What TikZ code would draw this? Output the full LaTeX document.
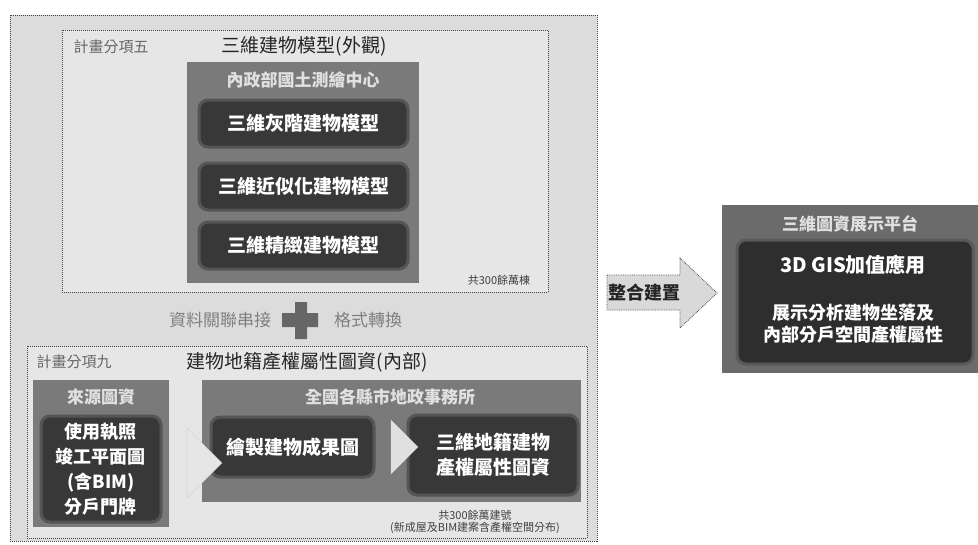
\documentclass[tikz,border=0pt]{standalone}
\usepackage{fontspec}
\setmainfont{Noto Sans CJK TC}
\usetikzlibrary{shapes.arrows}
\definecolor{panelbg}{HTML}{DCDCDC}
\definecolor{subbg}{HTML}{E6E6E6}
\definecolor{darkbg}{HTML}{7A7A7A}
\definecolor{innerbg}{HTML}{383838}
\definecolor{halo}{HTML}{555555}
\begin{document}
\begin{tikzpicture}[x=1pt,y=-1pt,
  box/.style={anchor=north west,inner sep=0pt,outer sep=0pt},
  panel/.style={box,draw=black!75,densely dotted,line width=1pt,fill=panelbg},
  subpanel/.style={box,draw=black!75,densely dotted,line width=1pt,fill=subbg},
  darkpanel/.style={box,fill=darkbg},
  innerbox/.style={box,fill=innerbg,rounded corners=9pt,draw=halo,line width=3pt},
  wtext/.style={text=white,font=\bfseries\fontsize{19}{23}\selectfont,align=center},
  htext/.style={text=white!88!black,font=\bfseries\fontsize{17}{20}\selectfont},
  ttext/.style={text=black!85,font=\fontsize{19}{22}\selectfont},
  ltext/.style={text=black!60,font=\fontsize{15}{18}\selectfont},
  ntext/.style={text=black!75,font=\fontsize{11}{13}\selectfont,align=center},
  mtext/.style={text=black!50,font=\fontsize{17}{20}\selectfont},
  farrow/.style={single arrow,draw=black!40,densely dotted,fill=subbg,inner sep=0pt,
     single arrow head extend=0pt},
]
\useasboundingbox (0,0) rectangle (978,544);
\fill[white] (0,0) rectangle (978,544);

% outer panel
\node[panel,minimum width=587pt,minimum height=526pt] (outer) at (10,15) {};

% top sub panel
\node[subpanel,minimum width=486pt,minimum height=262pt] (top) at (62,30) {};
\node[ltext,anchor=west] (lab5) at (70,47) {計畫分項五};
\node[ttext] (tit5) at (304,46) {三維建物模型(外觀)};
\node[darkpanel,minimum width=232pt,minimum height=221pt] (nlsc) at (187,62) {};
\node[htext] (nlsch) at (303,80) {內政部國土測繪中心};
\node[innerbox,minimum width=209pt,minimum height=47pt] (m1) at (199,100) {};
\node[wtext] at (m1.center) {三維灰階建物模型};
\node[innerbox,minimum width=209pt,minimum height=47pt] (m2) at (199,163) {};
\node[wtext] at (m2.center) {三維近似化建物模型};
\node[innerbox,minimum width=209pt,minimum height=47pt] (m3) at (199,222) {};
\node[wtext] at (m3.center) {三維精緻建物模型};
\node[ntext] (n5) at (499,280) {共300餘萬棟};

% middle
\node[mtext] (mid1) at (220,320) {資料關聯串接};
\fill[black!60] (295,302) rectangle (307,339) (282,313) rectangle (318,327);
\coordinate (plus) at (301,320);
\node[mtext] (mid2) at (368,320) {格式轉換};

% bottom sub panel
\node[subpanel,minimum width=560pt,minimum height=192pt] (bot) at (27,346) {};
\node[ltext,anchor=west] (lab9) at (33,362) {計畫分項九};
\node[ttext] (tit9) at (307,362) {建物地籍產權屬性圖資(內部)};

\node[darkpanel,minimum width=136pt,minimum height=147pt] (src) at (33,380) {};
\node[htext] (srch) at (101,397) {來源圖資};
\node[innerbox,minimum width=120pt,minimum height=106pt] (srci) at (41,416) {};
\node[wtext,font=\bfseries\fontsize{18}{25}\selectfont] at (srci.center) {使用執照\\竣工平面圖\\(含BIM)\\分戶門牌};

\node[darkpanel,minimum width=379pt,minimum height=122pt] (land) at (202,380) {};
\node[htext] (landh) at (390,397) {全國各縣市地政事務所};
\node[innerbox,minimum width=163pt,minimum height=60pt] (draw1) at (211,417) {};
\node[wtext] at (draw1.center) {繪製建物成果圖};
\node[innerbox,minimum width=170pt,minimum height=80pt] (cad) at (408,415) {};
\node[wtext,font=\bfseries\fontsize{19}{25}\selectfont] at (cad.center) {三維地籍建物\\產權屬性圖資};

\node[farrow,minimum height=26pt,minimum width=70pt] (a1) at (187,463) {};
\node[single arrow,fill=black!12,inner sep=0pt,minimum height=26pt,minimum width=54pt,single arrow head extend=0pt] (a2) at (391,447) {};

\node[ntext] (n9) at (475,522) {共300餘萬建號\\[-1pt](新成屋及BIM建案含產權空間分布)};

% integration arrow
\coordinate (intc) at (662,293);
\draw[black!70,densely dotted,fill=black!15,line width=0.8pt]
  (607,275) -- (680,275) -- (680,258) -- (717,293) -- (680,328) -- (680,310) -- (607,310) -- cycle;
\node[ttext,font=\bfseries\fontsize{18}{22}\selectfont] (intt) at (644,293) {整合建置};

% right panel
\node[darkpanel,fill=black!58,minimum width=256pt,minimum height=168pt] (plat) at (722,205) {};
\node[htext] (plath) at (850,224) {三維圖資展示平台};
\node[innerbox,fill=black!82,draw=black!65,minimum width=236pt,minimum height=124pt] (app) at (737,240) {};
\node[wtext,font=\bfseries\fontsize{20}{24}\selectfont] (appt) at (853,265) {3D GIS加值應用};
\node[wtext,font=\bfseries\fontsize{18}{22}\selectfont] (appd) at (853,324) {展示分析建物坐落及\\內部分戶空間產權屬性};
\end{tikzpicture}
\end{document}
